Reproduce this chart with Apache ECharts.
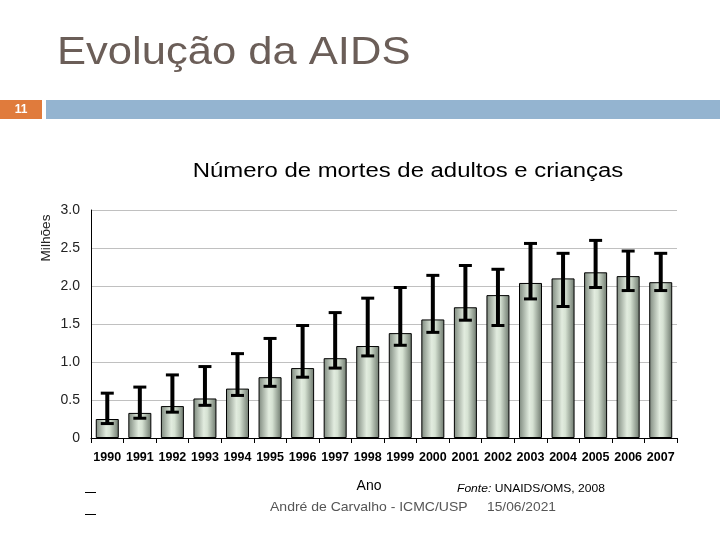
<!DOCTYPE html>
<html>
<head>
<meta charset="utf-8">
<script src="https://cdn.jsdelivr.net/npm/echarts@6/dist/echarts.min.js"></script>
<style>html,body{margin:0;padding:0;background:#fff}#c{width:720px;height:540px}</style>
</head>
<body>
<div id="c"></div>
<script>
var years = ['1990','1991','1992','1993','1994','1995','1996','1997','1998','1999','2000','2001','2002','2003','2004','2005','2006','2007'];
var deaths = [0.25,0.33,0.42,0.52,0.65,0.80,0.92,1.05,1.21,1.38,1.56,1.72,1.88,2.04,2.10,2.18,2.13,2.05];
var lowBound = [0.19,0.26,0.34,0.43,0.56,0.68,0.80,0.92,1.08,1.22,1.39,1.55,1.48,1.83,1.73,1.98,1.94,1.94];
var highBound = [0.59,0.67,0.83,0.94,1.11,1.31,1.48,1.65,1.84,1.98,2.14,2.27,2.22,2.56,2.43,2.60,2.46,2.43];
var yTicks = [0, 0.5, 1.0, 1.5, 2.0, 2.5, 3.0];

var errData = years.map(function(y, i){ return [i, lowBound[i], highBound[i]]; });

var chart = echarts.init(document.getElementById('c'));
var barGrad = new echarts.graphic.LinearGradient(0,0,1,0,[
  {offset:0,color:'#7d887d'},
  {offset:0.45,color:'#e2ecdf'},
  {offset:0.6,color:'#d6e2d3'},
  {offset:1,color:'#6c776c'}
]);
var F = '"Liberation Sans", Arial, sans-serif';
chart.setOption({
  animation:false,
  backgroundColor:'#fff',
  grid:{left:91,right:43,top:210,bottom:102,containLabel:false},
  xAxis:{
    type:'category',
    data:years,
    axisLine:{lineStyle:{color:'#000',width:1}},
    axisTick:{show:true,interval:0,length:5,lineStyle:{color:'#000'}},
    axisLabel:{interval:0,color:'#000',fontSize:12.5,fontWeight:'bold',fontFamily:'Liberation Sans Narrow, Arial Narrow, sans-serif',margin:13},
    splitLine:{show:false}
  },
  yAxis:{
    type:'value',
    min:yTicks[0],max:yTicks[yTicks.length-1],interval:0.5,
    axisLine:{show:true,lineStyle:{color:'#000',width:1}},
    axisTick:{show:false},
    axisLabel:{color:'#222',fontSize:14,fontFamily:'Liberation Sans, Arial, sans-serif',margin:11,
      formatter:function(v){return v===0?'0':v.toFixed(1);}},
    splitLine:{show:true,lineStyle:{color:'#c0c0c0',width:1}}
  },
  series:[
    {type:'bar',data:deaths,barWidth:23,
     itemStyle:{color:barGrad,borderColor:'#000',borderWidth:1}},
    {type:'custom',data:errData,z:10,
     renderItem:function(params,api){
       var x = api.value(0);
       var lo = api.coord([x, api.value(1)]);
       var hi = api.coord([x, api.value(2)]);
       var hw = 6.5;
       return {type:'group',children:[
         {type:'line',shape:{x1:lo[0],y1:lo[1],x2:hi[0],y2:hi[1]},style:{stroke:'#000',lineWidth:4}},
         {type:'line',shape:{x1:lo[0]-hw,y1:lo[1],x2:lo[0]+hw,y2:lo[1]},style:{stroke:'#000',lineWidth:3}},
         {type:'line',shape:{x1:hi[0]-hw,y1:hi[1],x2:hi[0]+hw,y2:hi[1]},style:{stroke:'#000',lineWidth:3}}
       ]};
     }}
  ],
  graphic:[
    {type:'text',x:57,y:54,scaleX:1.146,style:{text:'Evolução da AIDS',fill:'#6b5e58',font:'38px '+F,verticalAlign:'middle'}},
    {type:'rect',shape:{x:0,y:100,width:42,height:19},style:{fill:'#e07b3c'}},
    {type:'text',x:21,y:110,style:{text:'11',fill:'#fff',font:'bold 12px '+F,align:'center',verticalAlign:'middle'}},
    {type:'rect',shape:{x:46,y:100,width:674,height:19},style:{fill:'#94b4d0'}},
    {type:'text',x:408,y:171,scaleX:1.195,style:{text:'Número de mortes de adultos e crianças',fill:'#000',font:'20px '+F,align:'center',verticalAlign:'middle'}},
    {type:'text',x:46,y:238,rotation:Math.PI/2,scaleX:1.05,style:{text:'Milhões',fill:'#222',font:'13px '+F,align:'center',verticalAlign:'middle'}},
    {type:'text',x:369,y:486,style:{text:'Ano',fill:'#000',font:'14px '+F,align:'center',verticalAlign:'middle'}},
    {type:'text',x:457,y:489,scaleX:1.1,style:{text:'{i|Fonte:} UNAIDS/OMS, 2008',fill:'#000',font:'11px '+F,verticalAlign:'middle',rich:{i:{fontStyle:'italic',fontSize:11,fontFamily:'Liberation Sans'}}}},
    {type:'text',x:270,y:507,scaleX:1.077,style:{text:'André de Carvalho - ICMC/USP',fill:'#555',font:'13px '+F,verticalAlign:'middle'}},
    {type:'text',x:487,y:507,scaleX:1.06,style:{text:'15/06/2021',fill:'#555',font:'13px '+F,verticalAlign:'middle'}},
    {type:'rect',shape:{x:85,y:492,width:11,height:1},style:{fill:'#000'}},
    {type:'rect',shape:{x:85,y:514,width:11,height:1},style:{fill:'#000'}}
  ]
});
</script>
</body>
</html>
